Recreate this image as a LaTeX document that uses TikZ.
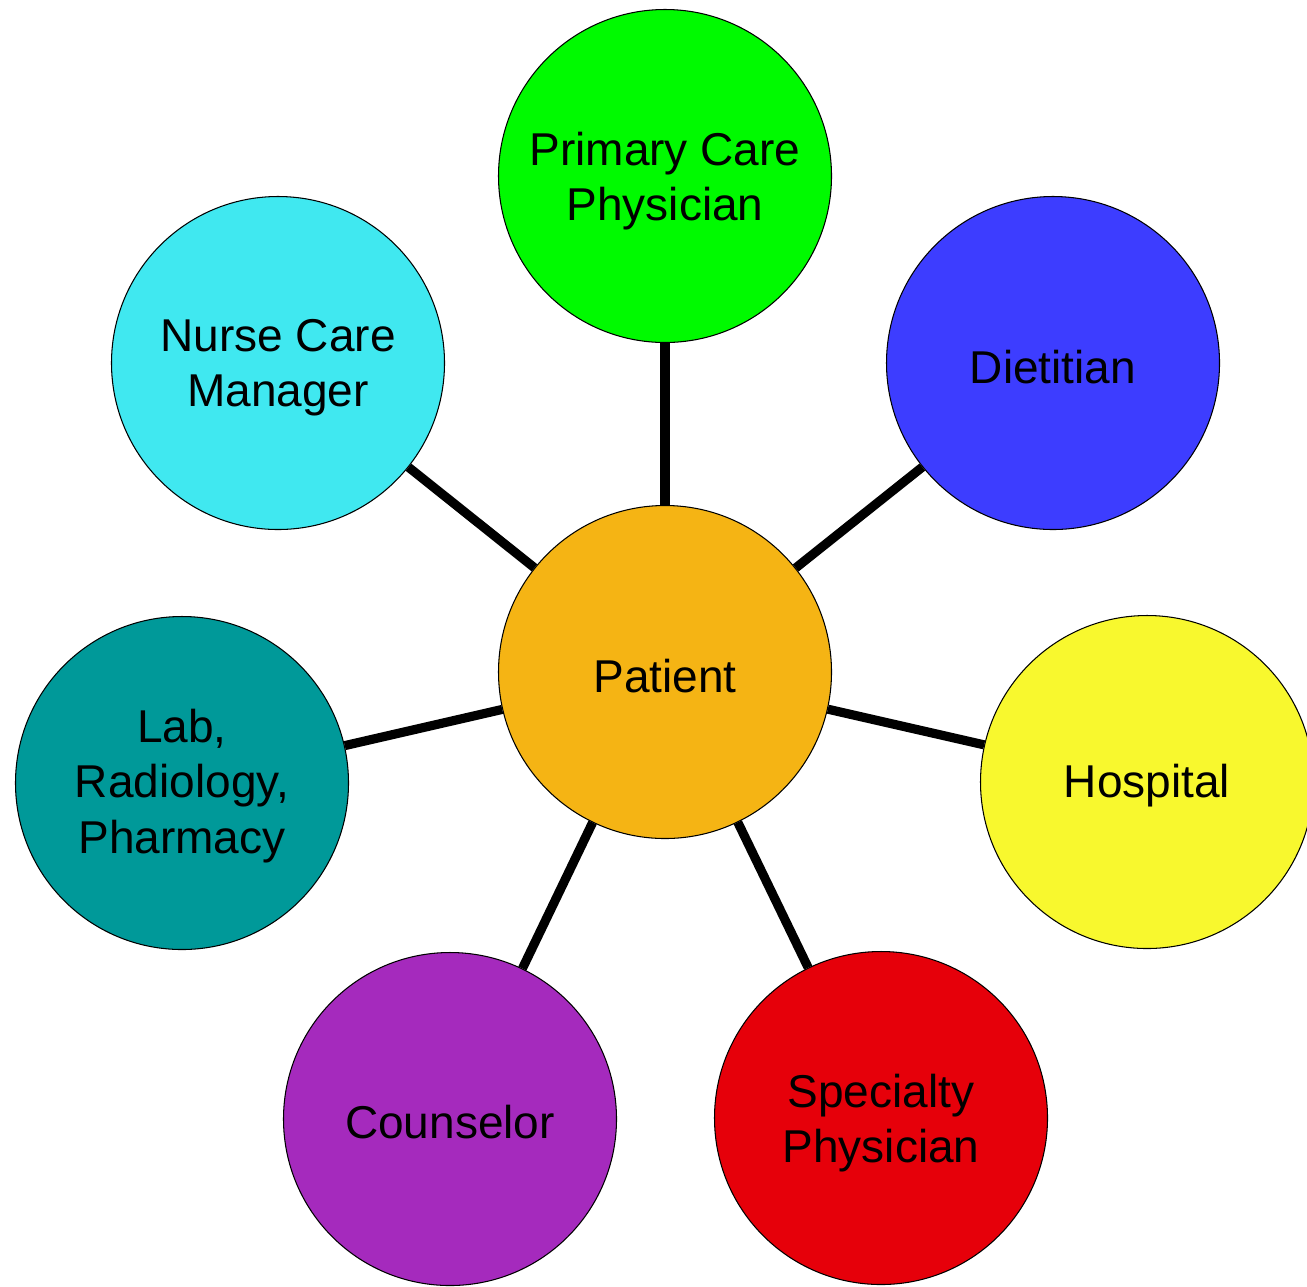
\documentclass[tikz,border=0pt]{standalone}
\usepackage{fontspec}
\setmainfont{Liberation Sans}
\begin{document}
\begin{tikzpicture}[x=0.02cm,y=-0.02cm,
  role/.style={circle,draw=black,line width=0.6pt,minimum size=333*0.02cm,inner sep=0pt},
  rolet/.style={align=center,inner sep=0pt,font=\fontsize{26.2}{31.5}\selectfont},
  link/.style={line width=5.2pt,draw=black}]
\useasboundingbox (0,0) rectangle (1307,1286);
\definecolor{cgreen}{RGB}{0,250,0}
\definecolor{cblue}{RGB}{61,61,255}
\definecolor{ccyan}{RGB}{64,232,240}
\definecolor{cyellow}{RGB}{248,248,46}
\definecolor{cteal}{RGB}{0,153,153}
\definecolor{cpurple}{RGB}{165,42,189}
\definecolor{cred}{RGB}{230,0,10}
\definecolor{corange}{RGB}{245,180,20}
\node[role,fill=corange] (pat) at (665,672) {};
\node[role,fill=cgreen] (pcp) at (665,176) {};
\node[role,fill=cblue] (diet) at (1053,363) {};
\node[role,fill=ccyan] (nurse) at (278,363) {};
\node[role,fill=cyellow] (hosp) at (1147,782) {};
\node[role,fill=cteal] (lab) at (182,783) {};
\node[role,fill=cpurple] (coun) at (450,1119) {};
\node[role,fill=cred] (spec) at (881,1118) {};
\node[rolet] (patt) at ([yshift=-0.08cm]pat.center) {Patient};
\node[rolet] (pcpt) at ([yshift=-0.1cm]pcp.center) {Primary Care\\Physician};
\node[rolet] (diett) at ([yshift=-0.08cm]diet.center) {Dietitian};
\node[rolet] (nurset) at ([yshift=-0.1cm]nurse.center) {Nurse Care\\Manager};
\node[rolet] (hospt) at ([yshift=-0.08cm]hosp.center) {Hospital};
\node[rolet] (labt) at ([yshift=-0.06cm]lab.center) {Lab,\\Radiology,\\Pharmacy};
\node[rolet] (count) at ([yshift=-0.06cm]coun.center) {Counselor};
\node[rolet] (spect) at ([yshift=-0.1cm]spec.center) {Specialty\\Physician};
\foreach \n in {pcp,diet,nurse,hosp,lab,coun,spec}{
  \draw[link] (pat) -- (\n);
}
\end{tikzpicture}
\end{document}
